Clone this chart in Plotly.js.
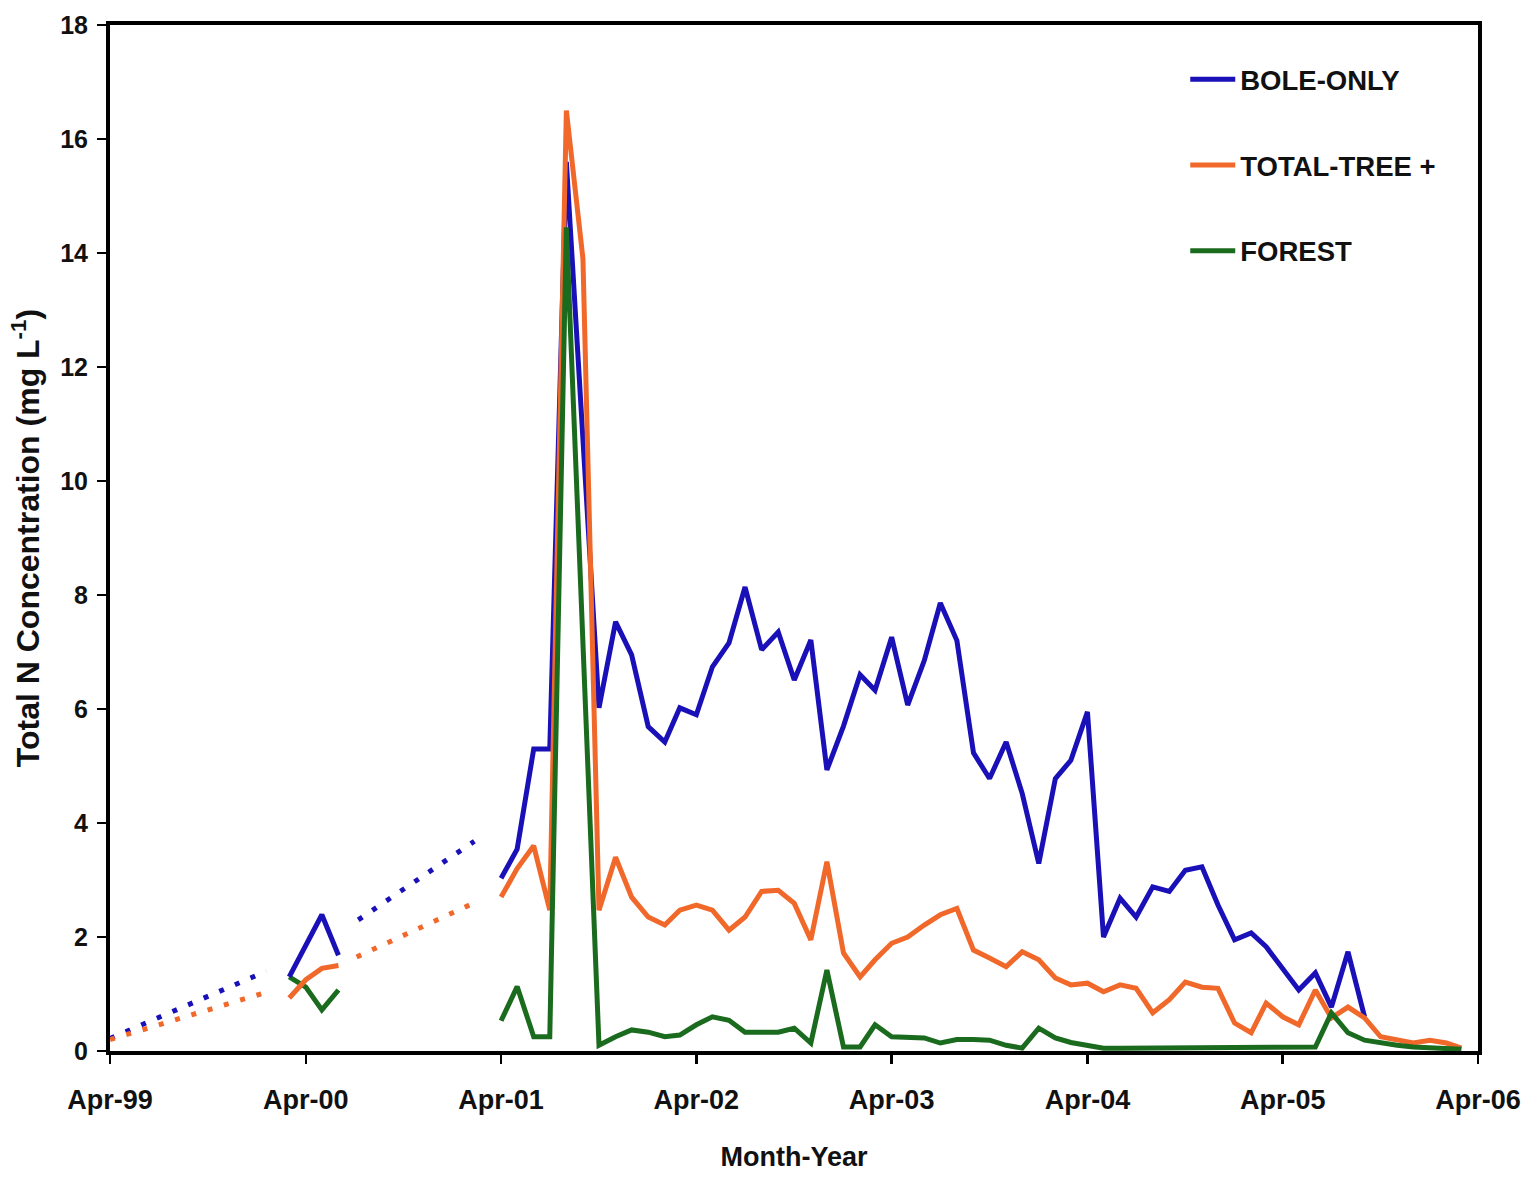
<!DOCTYPE html>
<html>
<head>
<meta charset="utf-8">
<script src="https://cdn.plot.ly/plotly-3.0.1.min.js"></script>
<style>html,body{margin:0;padding:0;background:#fff;}#chart{width:1538px;height:1182px;}</style>
</head>
<body>
<div id="chart"></div>
<script>
// ---- Data ----
// Early sampling period (Mar-00 .. Jun-00)
const monthsEarly = ["2000-03-01", "2000-04-01", "2000-05-01", "2000-06-01"];
const boleEarly   = [1.30, 1.85, 2.39, 1.68];
const totalEarly  = [0.93, 1.25, 1.45, 1.50];
const forestEarly = [1.30, 1.12, 0.72, 1.07];

// Main sampling period (Apr-01 .. Mar-06), monthly
const monthsMain = [
  "2001-04-01","2001-05-01","2001-06-01","2001-07-01","2001-08-01","2001-09-01","2001-10-01","2001-11-01","2001-12-01","2002-01-01","2002-02-01","2002-03-01",
  "2002-04-01","2002-05-01","2002-06-01","2002-07-01","2002-08-01","2002-09-01","2002-10-01","2002-11-01","2002-12-01","2003-01-01","2003-02-01","2003-03-01",
  "2003-04-01","2003-05-01","2003-06-01","2003-07-01","2003-08-01","2003-09-01","2003-10-01","2003-11-01","2003-12-01","2004-01-01","2004-02-01","2004-03-01",
  "2004-04-01","2004-05-01","2004-06-01","2004-07-01","2004-08-01","2004-09-01","2004-10-01","2004-11-01","2004-12-01","2005-01-01","2005-02-01","2005-03-01",
  "2005-04-01","2005-05-01","2005-06-01","2005-07-01","2005-08-01","2005-09-01","2005-10-01","2005-11-01","2005-12-01","2006-01-01","2006-02-01","2006-03-01"
];
const boleMain = [
  3.03, 3.54, 5.30, 5.30, 15.60, 10.80, 6.02, 7.53, 6.95, 5.69, 5.42, 6.02,
  5.90, 6.74, 7.16, 8.14, 7.04, 7.35, 6.51, 7.21, 4.93, 5.70, 6.60, 6.33,
  7.26, 6.07, 6.85, 7.86, 7.20, 5.23, 4.78, 5.42, 4.52, 3.29, 4.78, 5.10,
  5.95, 2.00, 2.68, 2.35, 2.88, 2.80, 3.17, 3.23, 2.56, 1.95, 2.07, 1.83,
  1.45, 1.07, 1.37, 0.77, 1.74, 0.60
];
const totalMain = [
  2.70, 3.20, 3.60, 2.47, 16.50, 13.90, 2.47, 3.40, 2.70, 2.35, 2.21, 2.47,
  2.56, 2.47, 2.12, 2.35, 2.80, 2.82, 2.59, 1.95, 3.32, 1.72, 1.30, 1.60,
  1.89, 2.00, 2.21, 2.39, 2.50, 1.77, 1.63, 1.48, 1.74, 1.60, 1.28, 1.16,
  1.19, 1.04, 1.16, 1.10, 0.67, 0.90, 1.21, 1.12, 1.10, 0.49, 0.32, 0.84,
  0.60, 0.46, 1.07, 0.58, 0.77, 0.58, 0.25, 0.19, 0.14, 0.19, 0.14, 0.05
];
const forestMain = [
  0.53, 1.13, 0.25, 0.25, 14.45, 7.30, 0.10, 0.25, 0.37, 0.33, 0.25, 0.28,
  0.46, 0.60, 0.54, 0.33, 0.33, 0.33, 0.40, 0.14, 1.42, 0.07, 0.07, 0.46,
  0.25, 0.23, 0.23, 0.14, 0.20, 0.20, 0.19, 0.10, 0.05, 0.40, 0.23, 0.15,
  0.10, 0.05, 0.05, 0.05, 0.05, 0.05, 0.05, 0.05, 0.05, 0.05, 0.05, 0.05,
  0.05, 0.05, 0.07, 0.67, 0.32, 0.19, 0.14, 0.10, 0.07, 0.05, 0.05, 0.03
];

// Dotted guide segments
const boleDot1X  = ["1999-04-01", "2000-01-18"];
const boleDot1Y  = [0.22, 1.40];
const boleDot2X  = ["2000-07-08", "2001-02-10"];
const boleDot2Y  = [2.30, 3.68];
const totalDot1X = ["1999-04-01", "2000-01-18"];
const totalDot1Y = [0.20, 1.03];
const totalDot2X = ["2000-07-05", "2001-02-10"];
const totalDot2Y = [1.65, 2.60];

// Tick labels
const xTickVals = ["1999-04-01","2000-04-01","2001-04-01","2002-04-01","2003-04-01","2004-04-01","2005-04-01","2006-04-01"];
const xTickText = ["Apr-99","Apr-00","Apr-01","Apr-02","Apr-03","Apr-04","Apr-05","Apr-06"];
const yTickVals = [0, 2, 4, 6, 8, 10, 12, 14, 16, 18];

const seriesNames = ["BOLE-ONLY", "TOTAL-TREE +", "FOREST"];

// ---- Styles ----
const BLUE = "#1a10b8";
const ORANGE = "#f0682a";
const GREEN = "#1b6b1f";
const LW = 5;
const FONT = "Liberation Sans, Arial, sans-serif";

function solid(x, y, color, name, show, group) {
  return {x: x, y: y, type: "scatter", mode: "lines", name: name, showlegend: show,
          legendgroup: group, line: {color: color, width: LW}, hoverinfo: "x+y"};
}
function dotted(x, y, color, group) {
  return {x: x, y: y, type: "scatter", mode: "lines", showlegend: false, legendgroup: group,
          line: {color: color, width: 5, dash: "5px,12px"}, hoverinfo: "skip"};
}

const traces = [
  dotted(boleDot1X, boleDot1Y, BLUE, "g1"),
  dotted(boleDot2X, boleDot2Y, BLUE, "g1"),
  dotted(totalDot1X, totalDot1Y, ORANGE, "g2"),
  dotted(totalDot2X, totalDot2Y, ORANGE, "g2"),
  solid(monthsEarly, forestEarly, GREEN, seriesNames[2], false, "g3"),
  solid(monthsEarly, totalEarly, ORANGE, seriesNames[1], false, "g2"),
  solid(monthsEarly, boleEarly, BLUE, seriesNames[0], false, "g1"),
  solid(monthsMain, boleMain, BLUE, seriesNames[0], true, "g1"),
  solid(monthsMain, totalMain, ORANGE, seriesNames[1], true, "g2"),
  solid(monthsMain, forestMain, GREEN, seriesNames[2], true, "g3")
];

const layout = {
  width: 1538, height: 1182,
  margin: {l: 110, r: 60, t: 25, b: 131},
  paper_bgcolor: "#ffffff", plot_bgcolor: "#ffffff",
  font: {family: FONT, color: "#111"},
  showlegend: true,
  legend: {
    x: 0.786, y: 0.971, xanchor: "left", yanchor: "top",
    traceorder: "grouped", tracegroupgap: 47,
    font: {family: FONT, size: 27.5, weight: "bold", color: "#111"},
    itemwidth: 45, bgcolor: "rgba(0,0,0,0)"
  },
  xaxis: {
    type: "date",
    range: ["1999-04-01", "2006-04-01"],
    tickvals: xTickVals, ticktext: xTickText,
    showgrid: false, zeroline: false,
    showline: true, linecolor: "#000", linewidth: 4, mirror: true,
    ticks: "outside", ticklen: 9, tickwidth: 2.5, tickcolor: "#000",
    tickfont: {family: FONT, size: 27, weight: "bold", color: "#111"},
    ticklabelstandoff: 13,
    title: {text: "Month-Year", font: {family: FONT, size: 27, weight: "bold", color: "#111"}, standoff: 34}
  },
  yaxis: {
    range: [0, 18],
    tickvals: yTickVals,
    showgrid: false, zeroline: false,
    showline: true, linecolor: "#000", linewidth: 4, mirror: true,
    ticks: "outside", ticklen: 9, tickwidth: 2.5, tickcolor: "#000",
    tickfont: {family: FONT, size: 25, weight: "bold", color: "#111"},
    ticklabelstandoff: 4,
    title: {text: "Total N Concentration (mg L<sup>-1</sup>)", font: {family: FONT, size: 32, weight: "bold", color: "#111"}, standoff: 12}
  }
};

Plotly.newPlot("chart", traces, layout, {displayModeBar: false, staticPlot: true});
</script>
</body>
</html>
